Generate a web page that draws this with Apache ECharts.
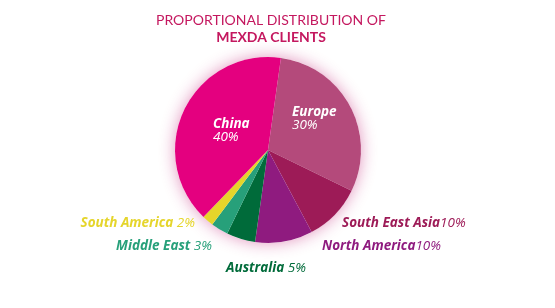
<!DOCTYPE html>
<html>
<head>
<meta charset="utf-8">
<script src="https://cdn.jsdelivr.net/npm/echarts@6/dist/echarts.min.js"></script>
<style>html,body{margin:0;padding:0;background:#fff}#c{width:555px;height:308px}</style>
</head>
<body>
<div id="c"></div>
<script>
const categories = ['Europe', 'South East Asia', 'North America', 'Australia', 'Middle East', 'South America', 'China'];
const values = [30, 10, 10, 5, 3, 2, 40];
const percentLabels = ['30%', '10%', '10%', '5%', '3%', '2%', '40%'];
const nameGaps = ['', '', '', ' ', ' ', ' ', ''];
const colors = ['#B44A7B', '#9D1B57', '#8F1B7F', '#006B3A', '#27A07A', '#E5D52B', '#E4007F'];

// label placement (anchor x, y, alignment) per category
const labelPlace = [
  {x: 292, y: 119, align: 'left', inside: true},
  {x: 342, y: 223, align: 'left'},
  {x: 322, y: 246, align: 'left'},
  {x: 226, y: 268, align: 'left'},
  {x: 212, y: 246, align: 'right'},
  {x: 195, y: 223, align: 'right'},
  {x: 213, y: 131, align: 'left', inside: true}
];

const TFONT = 'Lato, "Open Sans", sans-serif';
const FONT = '"Open Sans", Lato, sans-serif';
const chart = echarts.init(document.getElementById('c'), null, {renderer: 'canvas'});

const data = categories.map((name, i) => {
  const inside = !!labelPlace[i].inside;
  const col = inside ? '#ffffff' : colors[i];
  return {
    name: name,
    value: values[i],
    itemStyle: {color: colors[i]},
    label: {
      formatter: inside ? '{n|' + name + '}\n{p|' + percentLabels[i] + '}'
                        : '{n|' + name + nameGaps[i] + '}{p|' + percentLabels[i] + '}',
      rich: {
        n: {fontFamily: FONT, fontSize: 13.5, fontWeight: 'bold', fontStyle: 'italic', color: col, lineHeight: 13},
        p: {fontFamily: FONT, fontSize: 13.5, fontStyle: 'italic', color: col, lineHeight: 13}
      }
    }
  };
});

chart.setOption({
  animation: false,
  title: {
    text: 'PROPORTIONAL DISTRIBUTION OF',
    subtext: 'MEXDA CLIENTS',
    left: 266,
    textAlign: 'center',
    top: 8,
    itemGap: 3,
    textStyle: {fontFamily: TFONT, fontSize: 14, fontWeight: 'normal', color: '#C4185F'},
    subtextStyle: {fontFamily: TFONT, fontSize: 14, fontWeight: 'bold', color: '#C4185F'}
  },
  series: [
    {
      type: 'pie',
      silent: true,
      center: [268, 150],
      radius: 93,
      label: {show: false},
      labelLine: {show: false},
      itemStyle: {color: '#ffffff', shadowBlur: 16, shadowColor: 'rgba(190,20,110,0.45)'},
      data: [{value: 1, name: ''}],
      z: 1
    },
    {
      type: 'pie',
      center: [268, 150],
      radius: 93,
      startAngle: 82,
      clockwise: true,
      z: 2,
      labelLine: {show: false},
      label: {show: true, position: 'outside'},
      labelLayout: function (p) {
        const lp = labelPlace[p.dataIndex];
        return {x: lp.x, y: lp.y, align: lp.align, verticalAlign: 'middle', hideOverlap: false};
      },
      itemStyle: {borderWidth: 0},
      data: data
    }
  ]
});
</script>
</body>
</html>
